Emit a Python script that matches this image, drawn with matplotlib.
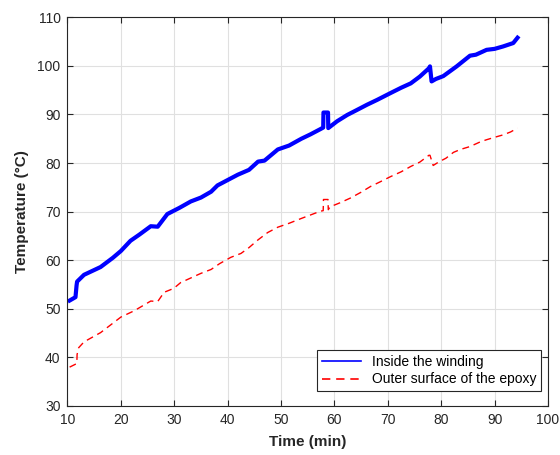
import matplotlib
matplotlib.use("Agg")
import matplotlib.pyplot as plt

plt.rcParams["font.family"] = ["Liberation Sans", "DejaVu Sans"]

# Winding thermocouple (blue)
t_inside = [10.4, 11.5, 11.7, 11.8, 13.1, 16.2, 18.5, 20.0, 21.8, 23.5, 25.6, 26.9,
            28.7, 31.0, 33.1, 35.0, 36.9, 38.1, 40.0, 41.9, 44.0, 45.7, 46.9, 49.4,
            51.5, 53.8, 55.5, 57.4, 57.9, 57.95, 58.8, 58.85, 60.5, 62.4, 64.0, 66.1,
            68.0, 70.5, 72.5, 74.3, 76.0, 77.7, 77.9, 78.2, 79.0, 80.4, 82.9, 85.4,
            86.5, 88.5, 90.0, 91.6, 93.5, 94.3]
temp_inside = [51.7, 52.4, 54.8, 55.6, 57.0, 58.6, 60.5, 61.9, 64.0, 65.3, 67.0, 66.9,
               69.5, 70.8, 72.1, 72.9, 74.1, 75.4, 76.5, 77.6, 78.6, 80.3, 80.5, 82.8,
               83.6, 85.0, 85.9, 87.0, 87.3, 90.4, 90.4, 87.2, 88.6, 89.9, 90.8, 92.0,
               93.0, 94.4, 95.5, 96.4, 97.8, 99.5, 99.9, 96.8, 97.3, 97.9, 99.9, 102.1,
               102.3, 103.3, 103.5, 104.0, 104.7, 105.8]

# Epoxy surface thermocouple (red)
t_outer = [10.4, 11.5, 11.75, 11.8, 12.1, 13.1, 16.2, 20.0, 22.5, 25.6, 26.9, 28.1,
           29.9, 31.2, 35.0, 36.9, 38.5, 40.6, 42.5, 44.0, 45.7, 47.5, 49.4, 51.5,
           53.8, 57.4, 57.9, 57.95, 58.8, 58.85, 59.2, 61.0, 63.0, 65.0, 66.8, 68.5,
           70.5, 72.5, 74.3, 76.0, 77.7, 77.9, 78.5, 79.5, 80.9, 82.3, 83.6, 85.4,
           87.4, 88.5, 90.0, 91.6, 93.0, 94.3]
temp_outer = [38.0, 38.6, 38.7, 40.6, 42.0, 43.2, 45.1, 48.3, 49.6, 51.6, 51.5, 53.4,
              54.2, 55.4, 57.3, 58.1, 59.3, 60.6, 61.4, 62.6, 64.2, 65.7, 66.8, 67.6,
              68.6, 70.1, 70.2, 72.5, 72.5, 70.4, 71.0, 71.8, 72.8, 74.0, 75.2, 76.1,
              77.2, 78.2, 79.3, 80.2, 81.6, 81.6, 79.5, 80.2, 81.0, 82.2, 82.8, 83.4,
              84.4, 84.8, 85.3, 85.8, 86.4, 87.2]

xticks = list(range(10, 101, 10))
yticks = list(range(30, 111, 10))

fig = plt.figure(figsize=(5.6, 4.55), dpi=100)
ax = fig.add_axes([0.1205, 0.1077, 0.858, 0.8543])

ax.plot(t_inside, temp_inside, color="#0000ff", linewidth=3.0,
        label="Inside the winding")
ax.plot(t_outer, temp_outer, color="#ff0000", linewidth=1.0,
        linestyle=(0, (5, 3.5)), label="Outer surface of the epoxy")

ax.set_xlim(10, 100)
ax.set_ylim(30, 110)
ax.set_xticks(xticks)
ax.set_yticks(yticks)

axis_col = "#262626"
for s in ax.spines.values():
    s.set_color(axis_col)
    s.set_linewidth(0.8)
ax.tick_params(direction="in", top=True, right=True, length=4, width=0.8,
               colors=axis_col, labelsize=10, pad=5)
ax.grid(True, color="#e0e0e0", linewidth=0.8)
ax.set_axisbelow(True)

ax.set_xlabel("Time (min)", fontsize=11, fontweight="bold", color=axis_col, labelpad=6)
ax.set_ylabel("Temperature (°C)", fontsize=11, fontweight="bold", color=axis_col, labelpad=6)

leg = ax.legend(loc="lower right", bbox_to_anchor=(0.986, 0.038), borderaxespad=0,
                fontsize=10, fancybox=False, framealpha=1, edgecolor=axis_col,
                handlelength=2.8, borderpad=0.35, labelspacing=0.25)
leg.get_frame().set_linewidth(0.8)
# thin handles in the legend, the data line is drawn heavier
for h in leg.get_lines():
    h.set_linewidth(1.2)

fig.savefig("out.png", dpi=100)
